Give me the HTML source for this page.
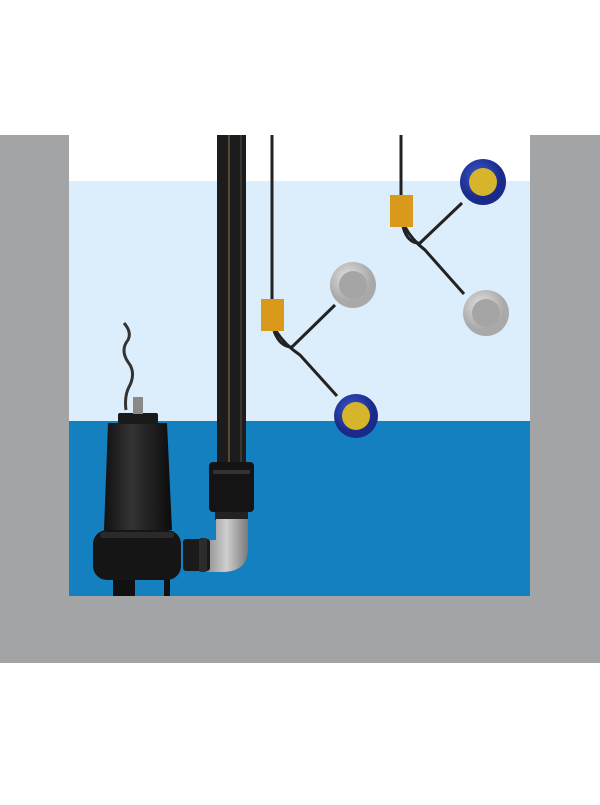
<!DOCTYPE html>
<html><head><style>body{margin:0;background:#fff}</style></head><body>
<svg width="600" height="800" xmlns="http://www.w3.org/2000/svg">
<defs>
<radialGradient id="gr" cx="40%" cy="35%"><stop offset="0" stop-color="#e4e4e4"/><stop offset="1" stop-color="#a9a9a9"/></radialGradient>
<radialGradient id="bl" cx="40%" cy="35%"><stop offset="0" stop-color="#3a56c8"/><stop offset="1" stop-color="#1a2a8a"/></radialGradient>
<linearGradient id="pump" x1="0" x2="1"><stop offset="0" stop-color="#111"/><stop offset=".4" stop-color="#333"/><stop offset="1" stop-color="#0c0c0c"/></linearGradient>
<linearGradient id="elb" x1="0" x2="1"><stop offset="0" stop-color="#8a8a8a"/><stop offset=".5" stop-color="#cfcfcf"/><stop offset="1" stop-color="#7a7a7a"/></linearGradient>
</defs>
<rect x="0" y="135" width="600" height="528" fill="#a2a4a6"/>
<rect x="69" y="135" width="461" height="461" fill="#fff"/>
<rect x="69" y="181" width="461" height="240" fill="#dcedfb"/>
<rect x="69" y="421" width="461" height="175" fill="#1580bf"/>
<!-- pipe -->
<rect x="217" y="135" width="29" height="330" fill="#1c1c1c"/>
<rect x="228" y="135" width="2" height="330" fill="#5a4a35"/>
<rect x="240" y="135" width="2" height="330" fill="#3b3530"/>
<rect x="209" y="462" width="45" height="50" rx="4" fill="#141414"/>
<rect x="213" y="470" width="37" height="4" fill="#333"/>
<rect x="215" y="512" width="33" height="8" fill="#222"/>
<path d="M216 519 H248 V548 Q248 572 222 572 H205 V540 H216 Z" fill="url(#elb)"/>
<rect x="183" y="539" width="27" height="32" rx="3" fill="#1a1a1a"/>
<rect x="199" y="538" width="8" height="34" rx="2" fill="#2c2c2c"/>
<!-- pump -->
<path d="M101 595 V580 M"/>
<rect x="113" y="578" width="22" height="18" fill="#111"/>
<rect x="164" y="578" width="6" height="18" fill="#111"/>
<path d="M108 423 H167 L172 530 H104 Z" fill="url(#pump)"/>
<rect x="118" y="413" width="40" height="11" rx="2" fill="#1a1a1a"/>
<rect x="133" y="397" width="10" height="17" fill="#888"/>
<rect x="93" y="530" width="88" height="50" rx="14" fill="#151515"/>
<rect x="100" y="532" width="74" height="6" rx="3" fill="#2a2a2a"/>
<path d="M126 410 Q124 395 130 385 Q136 372 128 362 Q120 350 128 340 Q132 332 124 323" stroke="#333" stroke-width="3" fill="none"/>
<!-- left float set -->
<g stroke="#222" stroke-width="3" fill="none">
<line x1="272" y1="135" x2="272" y2="300"/>
<path d="M274 331 Q280 347 292 347 L335 305"/>
<path d="M276 331 Q285 345 300 355 L337 396"/>
<line x1="401" y1="135" x2="401" y2="196"/>
<path d="M403 227 Q408 244 420 243 L462 203"/>
<path d="M405 227 Q412 240 425 250 L464 294"/>
</g>
<rect x="261" y="299" width="23" height="32" fill="#d99a1c"/>
<rect x="390" y="195" width="23" height="32" fill="#d99a1c"/>
<circle cx="353" cy="285" r="23" fill="url(#gr)"/><circle cx="353" cy="285" r="14" fill="#a5a5a5"/>
<circle cx="486" cy="313" r="23" fill="url(#gr)"/><circle cx="486" cy="313" r="14" fill="#a5a5a5"/>
<circle cx="356" cy="416" r="22" fill="url(#bl)"/><circle cx="356" cy="416" r="14" fill="#d6b52c"/>
<circle cx="483" cy="182" r="23" fill="url(#bl)"/><circle cx="483" cy="182" r="14" fill="#d6b52c"/>
</svg>
</body></html>
